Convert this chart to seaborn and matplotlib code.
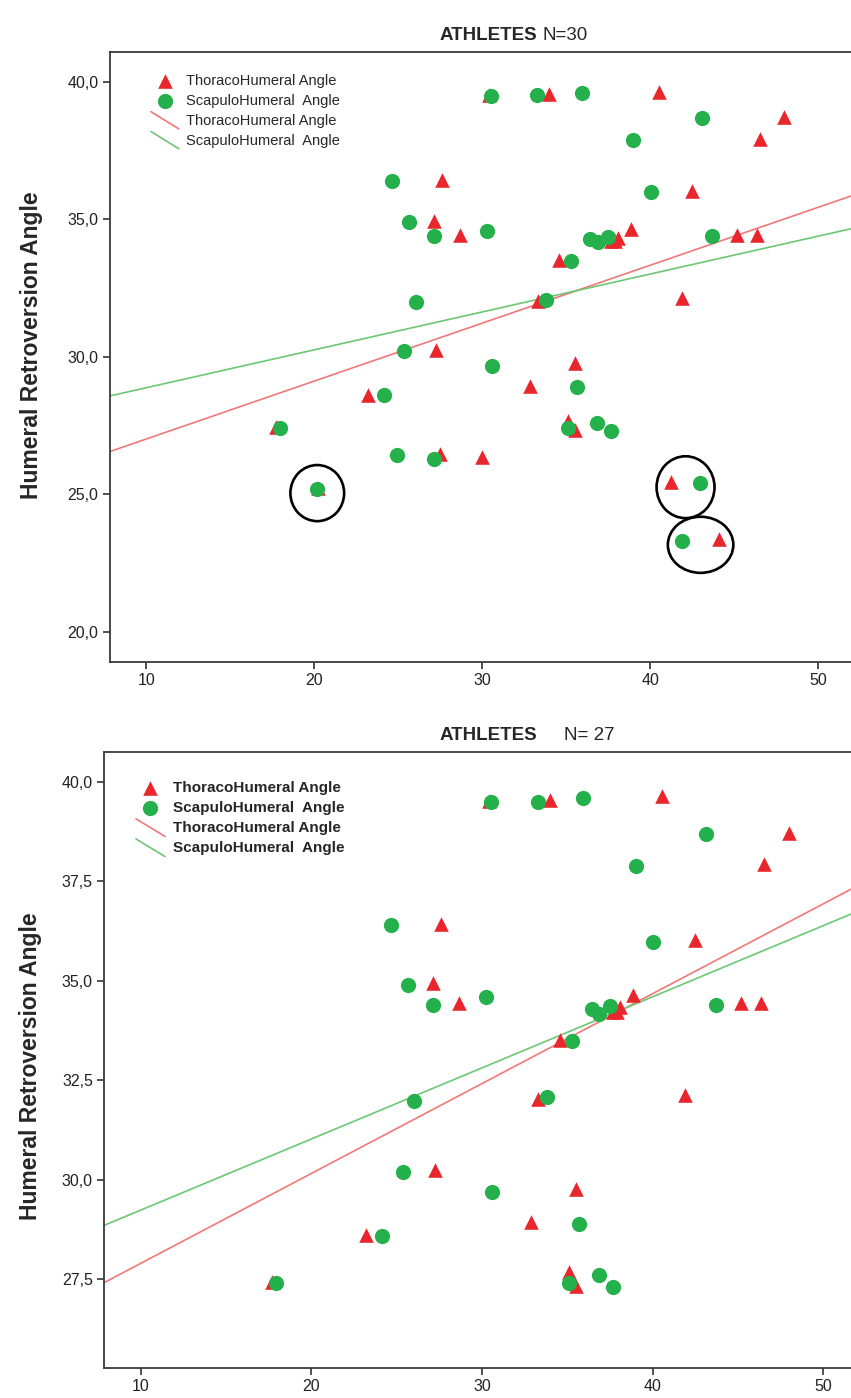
import numpy as np
import pandas as pd
import matplotlib
matplotlib.use("Agg")
import matplotlib.pyplot as plt
import seaborn as sns
from matplotlib.patches import Ellipse
from matplotlib.lines import Line2D
from matplotlib.legend_handler import HandlerBase
from matplotlib.ticker import FuncFormatter, MultipleLocator

# ThoracoHumeral angle (x) vs Humeral Retroversion angle (y), all 30 athletes
thoraco_x = [17.7, 20.2, 23.18, 27.48, 27.22, 27.12, 27.62, 28.65, 29.96, 30.38,
             32.87, 33.3, 33.98, 34.55, 35.08, 35.5, 35.5, 37.65, 37.9, 38.08,
             38.84, 40.52, 41.25, 41.9, 42.46, 44.1, 45.15, 46.34, 46.52, 47.96]
thoraco_y = [27.43, 25.24, 28.62, 26.48, 30.23, 34.93, 36.43, 34.43, 26.36, 39.51,
             28.94, 32.03, 39.55, 33.52, 27.68, 27.32, 29.76, 34.2, 34.22, 34.33,
             34.64, 39.64, 25.45, 32.12, 36.03, 23.37, 34.44, 34.44, 37.92, 38.72]

# ScapuloHumeral angle (x) vs Humeral Retroversion angle (y)
scapulo_x = [17.93, 20.15, 24.12, 24.64, 24.94, 25.36, 25.64, 26.03, 27.13, 27.15,
             30.26, 30.55, 30.57, 33.26, 33.79, 35.12, 35.28, 35.66, 35.92, 36.42,
             36.83, 36.88, 37.48, 37.68, 38.99, 40.03, 41.9, 42.96, 43.1, 43.69]
scapulo_y = [27.4, 25.2, 28.59, 36.4, 26.41, 30.19, 34.89, 31.98, 26.29, 34.38,
             34.58, 39.49, 29.68, 39.5, 32.08, 27.4, 33.48, 28.89, 39.59, 34.28,
             27.6, 34.16, 34.37, 27.3, 37.88, 35.98, 23.31, 25.42, 38.69, 34.38]

# points left out of the second chart
dropped_thoraco = [1, 3, 8, 22, 25]
dropped_scapulo = [1, 4, 8, 26, 27]

# circled pairs in the first chart (thoraco index, scapulo index)
circled = [(1, 1), (22, 27), (25, 26)]
circle_w = [3.2, 3.45, 3.9]
circle_h = [2.04, 2.25, 2.04]

lab_t = "ThoracoHumeral Angle"
lab_s = "ScapuloHumeral  Angle"

RED = "#e8262c"
GREEN = "#24b04a"
RED_LINE = "#f07878"
GREEN_LINE = "#6cc872"

sns.set_style("ticks")
plt.rcParams['font.family'] = ['Liberation Sans Narrow', 'Liberation Sans', 'DejaVu Sans']


class HandlerDiag(HandlerBase):
    # SPSS style slanted line in the legend
    def create_artists(self, legend, orig_handle, xdescent, ydescent,
                       width, height, fontsize, trans):
        ln = Line2D([-xdescent, -xdescent + width], [height + 2, -3],
                    color=orig_handle.get_color(),
                    lw=orig_handle.get_linewidth(), transform=trans)
        return [ln]


def comma_fmt(v, pos):
    return f"{v:.1f}".replace(".", ",")


def draw_panel(ax, tx, ty, sx, sy, xlim, ylim, ystep, bold_legend, leg_anchor, leg_size):
    ax.set_xlim(*xlim)
    ax.set_ylim(*ylim)
    df_t = pd.DataFrame({"x": tx, "y": ty})
    df_s = pd.DataFrame({"x": sx, "y": sy})
    sns.scatterplot(data=df_t, x="x", y="y", marker="^", color=RED, s=110,
                    linewidth=0, ax=ax, label=lab_t, zorder=3)
    sns.scatterplot(data=df_s, x="x", y="y", marker="o", color=GREEN, s=120,
                    linewidth=0, ax=ax, label=lab_s, zorder=4)
    sns.regplot(data=df_t, x="x", y="y", scatter=False, ci=None, truncate=False,
                color=RED_LINE, line_kws={"lw": 1.2}, label=lab_t, ax=ax)
    ax.lines[-1].set_label(lab_t)
    sns.regplot(data=df_s, x="x", y="y", scatter=False, ci=None, truncate=False,
                color=GREEN_LINE, line_kws={"lw": 1.2}, label=lab_s, ax=ax)
    ax.lines[-1].set_label(lab_s)
    ax.set_xlim(*xlim)
    ax.set_ylim(*ylim)

    ax.xaxis.set_major_locator(MultipleLocator(10))
    ax.yaxis.set_major_locator(MultipleLocator(ystep))
    ax.yaxis.set_major_formatter(FuncFormatter(comma_fmt))
    ax.tick_params(direction="out", length=5, width=1.2, color="#333333",
                   labelsize=11.5, labelcolor="#222222", pad=3)
    for side in ["left", "bottom", "top"]:
        ax.spines[side].set_color("#3a3a3a")
        ax.spines[side].set_linewidth(1.3)
    ax.spines["right"].set_visible(False)
    ax.set_xlabel("")
    ax.set_ylabel("Humeral Retroversion Angle", fontsize=16.5, fontweight="bold",
                  family=['Liberation Sans', 'DejaVu Sans'])

    handles, labels = ax.get_legend_handles_labels()
    line_handles = [h for h in handles if isinstance(h, Line2D)]
    leg = ax.legend(handles, labels, loc="upper left", bbox_to_anchor=leg_anchor,
                    frameon=False, fontsize=leg_size, handlelength=1.9,
                    handletextpad=0.5, labelspacing=0.4, borderaxespad=0,
                    borderpad=0,
                    handler_map={h: HandlerDiag() for h in line_handles})
    for t in leg.get_texts():
        if bold_legend:
            t.set_fontweight("bold")
    return ax


fig = plt.figure(figsize=(8.51, 13.98), dpi=100, facecolor="white")

# first chart: N=30
ax1 = fig.add_axes([0.1288, 0.5263, 0.876, 0.4367])
draw_panel(ax1, thoraco_x, thoraco_y, scapulo_x, scapulo_y,
           (7.81, 52.2), (18.89, 41.09), 5, False, (0.0555, 0.9635), 10.5)
ax1.yaxis.set_label_coords(-0.09, 0.52)
for (ti, si), w, h in zip(circled, circle_w, circle_h):
    cx = (thoraco_x[ti] + scapulo_x[si]) / 2
    cy = (thoraco_y[ti] + scapulo_y[si]) / 2 - 0.18
    ax1.add_patch(Ellipse((cx, cy), w, h, fill=False, ec="black", lw=1.9, zorder=5))

# second chart: outliers removed
keep_t = [i for i in range(len(thoraco_x)) if i not in dropped_thoraco]
keep_s = [i for i in range(len(scapulo_x)) if i not in dropped_scapulo]
ax2 = fig.add_axes([0.1222, 0.02124, 0.8825, 0.441])
draw_panel(ax2, [thoraco_x[i] for i in keep_t], [thoraco_y[i] for i in keep_t],
           [scapulo_x[i] for i in keep_s], [scapulo_y[i] for i in keep_s],
           (7.85, 51.85), (25.26, 40.75), 2.5, True, (0.0426, 0.9525), 11)
ax2.yaxis.set_label_coords(-0.0825, 0.49)

# titles: bold group name plus sample size
fig.text(537 / 851, 1 - 35 / 1398, "ATHLETES", ha="right", va="center",
         fontsize=13.5, fontweight="bold")
fig.text(543 / 851, 1 - 35 / 1398, "N=30", ha="left", va="center", fontsize=13.5)
fig.text(537 / 851, 1 - 735 / 1398, "ATHLETES", ha="right", va="center",
         fontsize=13.5, fontweight="bold")
fig.text(564 / 851, 1 - 735 / 1398, "N= 27", ha="left", va="center", fontsize=13.5)

fig.savefig("out.png", dpi=100, facecolor="white")
